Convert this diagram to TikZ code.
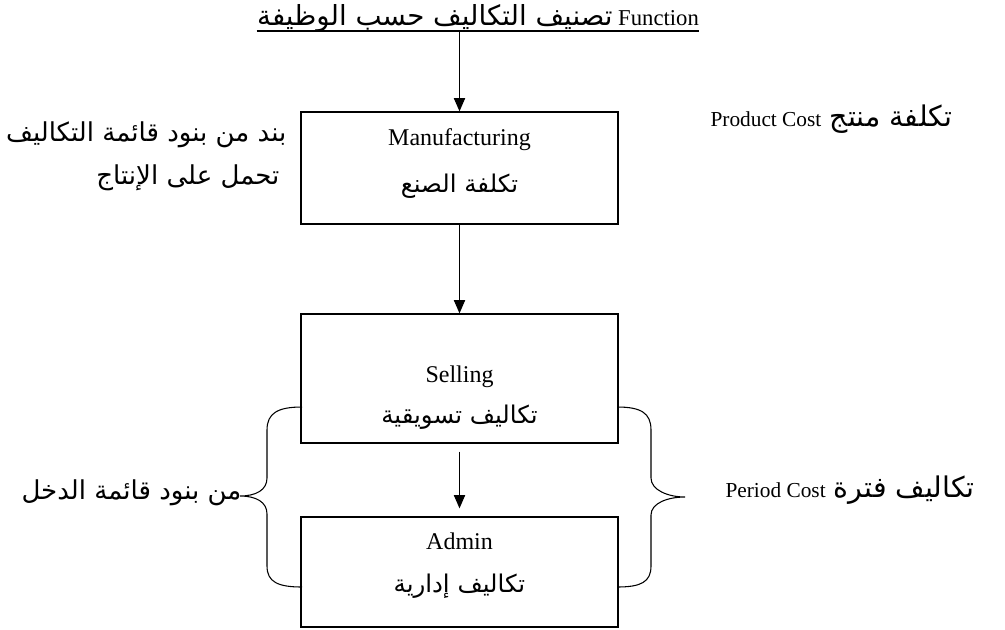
\documentclass[tikz,border=0pt]{standalone}
\usepackage{fontspec}
\setmainfont{Liberation Serif}
\newfontfamily\arabicfont[Script=Arabic,Scale=1.22]{DejaVu Sans}
\TeXXeTstate=1
\usetikzlibrary{arrows.meta}

\begin{document}
\begin{tikzpicture}[x=0.75pt,y=-0.75pt,line width=0.8pt,
  >={Triangle[length=10pt,width=8.5pt]},
  costbox/.style={draw,shape=rectangle,line width=1pt,minimum width=237.75pt},
  bigtext/.style={font=\fontsize{16}{19}\selectfont,inner sep=0pt,anchor=base},
  boxtext/.style={font=\fontsize{18}{21}\selectfont,inner sep=0pt,anchor=base},
  boxarab/.style={font=\fontsize{15}{18}\selectfont,inner sep=0pt,anchor=base}]

  \useasboundingbox (0,0) rectangle (1005,629);

  \draw (478,25) node [bigtext,font=\fontsize{17}{20}\selectfont] (title)
  {{\arabicfont\beginR تصنيف التكاليف حسب الوظيفة\endR} Function};
  \draw ([yshift=-4.5pt]title.base west) -- ([yshift=-4.5pt]title.base east);
  \coordinate (uline) at ([yshift=-4.5pt]title.base);

  % the three cost boxes
  \draw (459.5,168) node [costbox,minimum height=84pt] (manu) {};
  \draw (459.5,378.5) node [costbox,minimum height=96.75pt] (sell) {};
  \draw (459.5,572) node [costbox,minimum height=82.5pt] (admin) {};

  \draw (459.5,145) node [boxtext] (manuEn) {Manufacturing};
  \draw (459.5,192) node [boxarab] (manuAr) {\arabicfont\beginR تكلفة الصنع\endR};
  \draw (459.5,382) node [boxtext] (sellEn) {Selling};
  \draw (459.5,423) node [boxarab] (sellAr) {\arabicfont\beginR تكاليف تسويقية\endR};
  \draw (459.5,549) node [boxtext] (adminEn) {Admin};
  \draw (459.5,592) node [boxarab] (adminAr) {\arabicfont\beginR تكاليف إدارية\endR};

  % side labels
  \draw (287,141) node [bigtext,anchor=base east] (itemA)
  {\arabicfont\beginR بند من بنود قائمة التكاليف\endR};
  \draw (280,184) node [bigtext,anchor=base east] (itemB)
  {\arabicfont\beginR تحمل على الإنتاج\endR};
  \draw (710,126) node [bigtext,anchor=base west] (product)
  {\arabicfont\beginR {\fontsize{17.5}{20}\selectfont تكلفة منتج} \beginL\rmfamily Product Cost\endL\endR};
  \draw (242,499) node [bigtext,anchor=base east] (income)
  {\arabicfont\beginR من بنود قائمة الدخل\endR};
  \draw (725,497) node [bigtext,anchor=base west] (period)
  {\arabicfont\beginR {\fontsize{17.5}{20}\selectfont تكاليف فترة} \beginL\rmfamily Period Cost\endL\endR};

  \draw[->] (manu.north |- uline) -- (manu.north);
  \draw[->] (manu.south) -- (sell.north);
  \draw[->,shorten <=6pt,shorten >=6pt] (sell.south) -- (admin.north);

  % braces
  \draw (302,407) .. controls (278,407) and (267,413) .. (267,430)
    -- (267,478) .. controls (267,490) and (256,496) .. (240,496)
    .. controls (256,496) and (267,502) .. (267,514)
    -- (267,566) .. controls (267,582) and (278,587) .. (302,587);
  \draw (617,407) .. controls (641,407) and (651,413) .. (651,430)
    -- (651,478) .. controls (651,490) and (668,497) .. (685,497)
    .. controls (668,497) and (651,503) .. (651,515)
    -- (651,566) .. controls (651,582) and (641,587) .. (617,587);

\end{tikzpicture}
\end{document}
